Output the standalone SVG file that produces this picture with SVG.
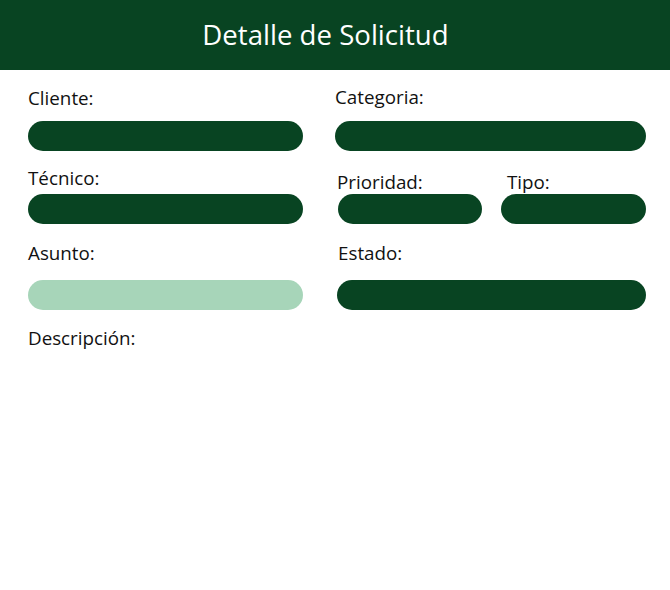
<svg xmlns="http://www.w3.org/2000/svg" width="670" height="590" viewBox="0 0 670 590">
<style>
.lbl{font-family:"Open Sans","Noto Sans",sans-serif;font-size:18.8px;fill:#111}
.fld{fill:#084422}
.fld-l{fill:#a7d5b9}
.ttl{font-family:"Open Sans","Noto Sans",sans-serif;font-size:27.6px;fill:#fff}
</style>
<rect width="670" height="590" fill="#fff"/>
<g id="header">
<rect x="0" y="0" width="670" height="70" fill="#084422"/>
<text class="ttl" x="325.5" y="45" text-anchor="middle">Detalle de Solicitud</text>
</g>
<g id="cliente">
<text class="lbl" x="28" y="105">Cliente:</text>
<rect class="fld" x="28" y="121" width="275" height="30" rx="15"/>
</g>
<g id="categoria">
<text class="lbl" x="335" y="104">Categoria:</text>
<rect class="fld" x="335" y="121" width="311" height="30" rx="15"/>
</g>
<g id="tecnico">
<text class="lbl" x="28" y="185">Técnico:</text>
<rect class="fld" x="28" y="194" width="275" height="30" rx="15"/>
</g>
<g id="prioridad">
<text class="lbl" x="337" y="189">Prioridad:</text>
<rect class="fld" x="338" y="194" width="144" height="30" rx="15"/>
</g>
<g id="tipo">
<text class="lbl" x="507" y="189">Tipo:</text>
<rect class="fld" x="501" y="194" width="145" height="30" rx="15"/>
</g>
<g id="asunto">
<text class="lbl" x="28" y="260">Asunto:</text>
<rect class="fld-l" x="28" y="280" width="275" height="30" rx="15"/>
</g>
<g id="estado">
<text class="lbl" x="338" y="260">Estado:</text>
<rect class="fld" x="337" y="280" width="309" height="30" rx="15"/>
</g>
<g id="descripcion">
<text class="lbl" x="28" y="345">Descripción:</text>
</g>
<g id="connectors"/>
</svg>
